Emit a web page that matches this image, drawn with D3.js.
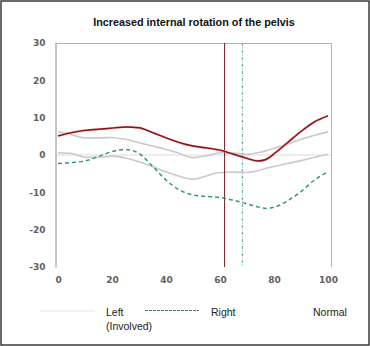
<!DOCTYPE html>
<html>
<head>
<meta charset="utf-8">
<script src="https://cdn.jsdelivr.net/npm/d3@7"></script>
<style>
  html, body { margin: 0; padding: 0; background: #fff; }
  svg { display: block; }
</style>
</head>
<body>
<svg id="chart" width="370" height="346"></svg>
<script>
// Gait cycle (% of stride)
const cycle = [0, 5, 10, 15, 20, 25, 30, 35, 40, 45, 50, 55, 60, 65, 70, 74, 77, 80, 85, 90, 95, 100];

// Pelvic rotation, degrees
const leftInvolved = [5.1, 6.0, 6.6, 6.9, 7.2, 7.5, 7.3, 6.0, 4.6, 3.3, 2.4, 1.9, 1.3, 0.2, -0.9, -1.6, -1.2, 0.3, 3.3, 6.3, 8.9, 10.5];
const right        = [-2.3, -2.0, -1.6, -0.4, 0.9, 1.5, 0.4, -3.0, -6.7, -9.4, -10.7, -11.1, -11.4, -12.1, -13.1, -13.9, -14.3, -14.0, -12.3, -9.8, -6.7, -4.5];
const normalUpper  = [6.3, 5.4, 4.6, 4.6, 4.7, 4.2, 3.3, 2.4, 1.5, 0.4, -0.7, -0.2, 0.6, 0.5, 0.2, 0.6, 1.1, 1.8, 2.9, 4.2, 5.3, 6.2];
const normalLower  = [0.6, 0.4, -0.6, -0.6, -0.3, -0.8, -1.8, -3.1, -4.5, -5.7, -6.5, -5.6, -4.7, -4.6, -4.7, -4.2, -3.6, -3.1, -2.3, -1.5, -0.6, 0.2];

// Toe-off markers (% of stride)
const toeOffLeft = 61.7;
const toeOffRight = 68.3;

const xTicks = [0, 20, 40, 60, 80, 100];
const yTicks = [-30, -20, -10, 0, 10, 20, 30];

const title = "Increased internal rotation of the pelvis";

const svg = d3.select("#chart");
const W = 370, H = 346;

// outer frame
svg.append("rect")
  .attr("x", 1).attr("y", 1).attr("width", W - 2).attr("height", H - 2)
  .attr("fill", "#fff").attr("stroke", "#3a3a3a").attr("stroke-width", 1.5);

const plot = { left: 55, right: 331, top: 43, bottom: 267 };

const x = d3.scaleLinear().domain([0, 100]).range([58, 328]);
const y = d3.scaleLinear().domain([-30, 30]).range([plot.bottom, plot.top]);

// title
svg.append("text")
  .attr("x", 194).attr("y", 26)
  .attr("text-anchor", "middle")
  .attr("font-family", "Liberation Sans, Arial, sans-serif")
  .attr("font-weight", "bold")
  .attr("font-size", 10.8)
  .attr("fill", "#111")
  .text(title);

// plot frame: top and right edges
svg.append("path")
  .attr("d", `M${plot.left},${plot.top + 0.5}H${plot.right + 0.5}V${plot.bottom}`)
  .attr("fill", "none").attr("stroke", "#b4b4b4").attr("stroke-width", 1);

// zero line
svg.append("line")
  .attr("x1", plot.left).attr("x2", plot.right)
  .attr("y1", y(0)).attr("y2", y(0))
  .attr("stroke", "#dadada").attr("stroke-width", 1);

const tickFont = "DejaVu Sans, Verdana, sans-serif";
const plainNumber = d => String(d);

// y axis
const yAxis = svg.append("g")
  .attr("transform", `translate(${plot.left + 0.5},0)`)
  .call(d3.axisLeft(y).tickValues(yTicks).tickSize(0).tickPadding(10).tickFormat(plainNumber));
yAxis.select(".domain").attr("stroke", "#8a8a8a");
yAxis.selectAll("text")
  .attr("font-family", tickFont)
  .attr("font-size", 9).attr("font-weight", 600).attr("fill", "#606060");

// x axis labels
const xAxis = svg.append("g")
  .attr("transform", `translate(0,${plot.bottom})`)
  .call(d3.axisBottom(x).tickValues(xTicks).tickSize(0).tickPadding(10).tickFormat(plainNumber));
xAxis.select(".domain").remove();
xAxis.selectAll("text")
  .attr("font-family", tickFont)
  .attr("font-size", 9).attr("font-weight", 600).attr("fill", "#606060");

const line = d3.line()
  .x((d, i) => x(cycle[i]))
  .y(d => y(d))
  .curve(d3.curveMonotoneX);

// normal band boundaries
[normalUpper, normalLower].forEach(s => {
  svg.append("path").datum(s)
    .attr("d", line)
    .attr("fill", "none").attr("stroke", "#c9c9c9").attr("stroke-width", 1.6);
});

// toe-off markers
svg.append("line")
  .attr("x1", x(toeOffLeft)).attr("x2", x(toeOffLeft))
  .attr("y1", plot.top).attr("y2", plot.bottom)
  .attr("stroke", "#7a1a1a").attr("stroke-width", 1);
svg.append("line")
  .attr("x1", x(toeOffRight)).attr("x2", x(toeOffRight))
  .attr("y1", plot.top).attr("y2", plot.bottom)
  .attr("stroke", "#5fae95").attr("stroke-width", 1)
  .attr("stroke-dasharray", "3,1.5,1,1.5");

// right side
svg.append("path").datum(right)
  .attr("d", line)
  .attr("fill", "none").attr("stroke", "#2e9a6e").attr("stroke-width", 1.5)
  .attr("stroke-dasharray", "4,3");

// left (involved) side
svg.append("path").datum(leftInvolved)
  .attr("d", line)
  .attr("fill", "none").attr("stroke", "#e6a3a3").attr("stroke-width", 2.2);
svg.append("path").datum(leftInvolved)
  .attr("d", line)
  .attr("fill", "none").attr("stroke", "#8e0f16").attr("stroke-width", 1.4);

// legend
const legendFont = "Liberation Sans, Arial, sans-serif";
svg.append("line").attr("x1", 40).attr("x2", 95).attr("y1", 311).attr("y2", 311)
  .attr("stroke", "#e4e4e4").attr("stroke-width", 1.2);
svg.append("text").attr("x", 106).attr("y", 316)
  .attr("font-family", legendFont).attr("font-size", 10.5).attr("fill", "#222")
  .text("Left");
svg.append("text").attr("x", 106).attr("y", 330)
  .attr("font-family", legendFont).attr("font-size", 10.5).attr("fill", "#222")
  .text("(Involved)");

svg.append("line").attr("x1", 145).attr("x2", 199).attr("y1", 310.5).attr("y2", 310.5)
  .attr("stroke", "#4d7868").attr("stroke-width", 1)
  .attr("stroke-dasharray", "3,1");
svg.append("text").attr("x", 211).attr("y", 316)
  .attr("font-family", legendFont).attr("font-size", 10.5).attr("fill", "#222")
  .text("Right");

svg.append("text").attr("x", 313).attr("y", 316)
  .attr("font-family", legendFont).attr("font-size", 10.5).attr("fill", "#222")
  .text("Normal");
</script>
</body>
</html>
